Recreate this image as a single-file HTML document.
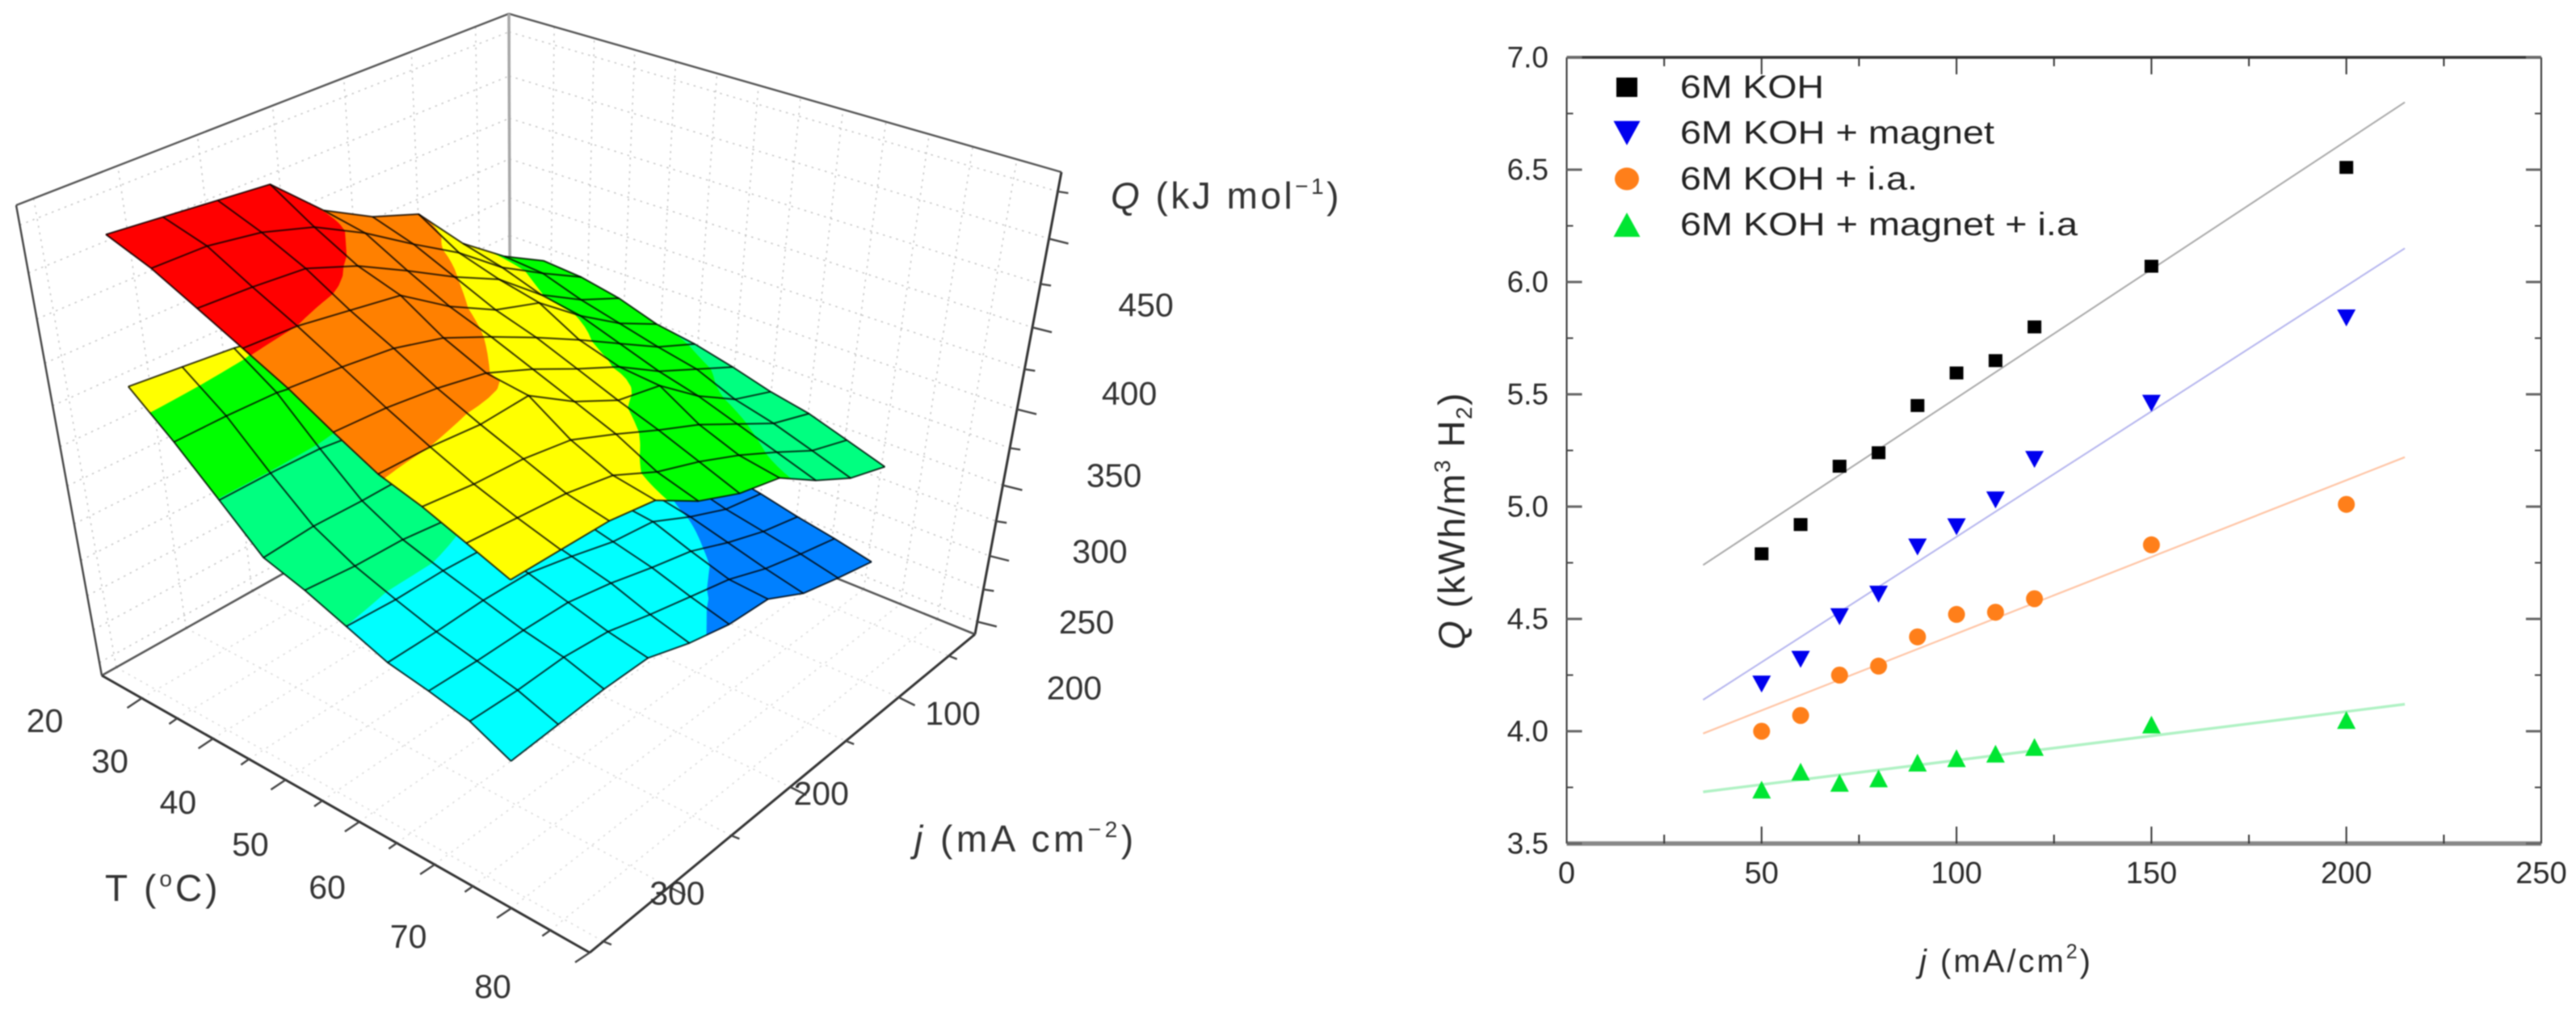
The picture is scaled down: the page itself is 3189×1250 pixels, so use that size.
<!DOCTYPE html>
<html lang="en">
<head>
<meta charset="utf-8">
<title>3D heat surface and specific energy chart</title>
<style>
html,body{margin:0;padding:0;background:#fff;}
body{width:3189px;height:1250px;overflow:hidden;}
svg{display:block;filter:blur(0.7px);font-family:"Liberation Sans",sans-serif;}
.t3d{font-size:41px;fill:#333;text-anchor:middle;dominant-baseline:central;}
.t2d{font-size:37px;fill:#2a2a2a;dominant-baseline:central;}
.t2dx{font-size:38px;fill:#2a2a2a;dominant-baseline:central;text-anchor:middle;}
.t2dl{font-size:40px;fill:#222;dominant-baseline:central;}
.ttl{font-size:46px;fill:#333;}
</style>
</head>
<body>
<svg id="figure" xmlns="http://www.w3.org/2000/svg" width="3189" height="1250" viewBox="0 0 3189 1250">
  <g id="left-walls"></g>
  <g id="left-box"></g>
  <g id="left-surf"></g>
  <g id="left-axes"></g>
  <text class="ttl" x="1375" y="258" letter-spacing="3.5"><tspan font-style="italic">Q</tspan> (kJ mol<tspan font-size="28" dy="-18">−1</tspan><tspan dy="18">)</tspan></text>
  <text class="ttl" x="130" y="1115" letter-spacing="4">T (<tspan font-size="28" dy="-18">o</tspan><tspan dy="18">C)</tspan></text>
  <text class="ttl" x="1132" y="1054" letter-spacing="4.5"><tspan font-style="italic">j</tspan> (mA cm<tspan font-size="28" dy="-18">−2</tspan><tspan dy="18">)</tspan></text>

  <g id="right-plot"></g>
  <text x="2376" y="1203" font-size="40" letter-spacing="3" fill="#2a2a2a"><tspan font-style="italic">j</tspan> (mA/cm<tspan font-size="25" dy="-17">2</tspan><tspan dy="17">)</tspan></text>
  <text transform="translate(1813,804) rotate(-90)" font-size="46" letter-spacing="1.5" fill="#2a2a2a"><tspan font-style="italic">Q</tspan> (kWh/m<tspan font-size="28" dy="-18">3</tspan><tspan dy="18"> H</tspan><tspan font-size="28" dy="9">2</tspan><tspan dy="-9">)</tspan></text>
</svg>
<script>
// ---------- 3D chart data ----------
const surfaceTemps = [25,30,35,40,45,50,55,60,65,70];
const surfaceCurrents = [360,327,294,261,228,195,162,129,96,63];
const upperQ = [
 [489,486,483,480,455,440,430,401,381,366],
 [481,480,475,466,451,433,416,395,379,364],
 [470,468,465,454,439,423,409,387,371,359],
 [459,457,452,447,428,413,404,383,365,351],
 [448,445,441,433,420,406,391,375,359,347],
 [435,433,429,423,411,397,384,367,354,341],
 [423,422,419,420,402,388,382,361,344,334],
 [416,412,410,405,393,380,368,353,338,329],
 [407,404,401,395,381,371,359,345,330,321],
 [398,397,396,391,374,362,355,337,322,313]
];
const lowerQ = [
 [409,406,403,398,388,378,365,350,335,322],
 [388,388,387,382,372,362,350,335,320,308],
 [365,365,364,360,352,342,332,318,305,295],
 [342,344,343,343,335,325,315,303,292,283],
 [334,331,330,326,320,312,303,292,282,274],
 [324,322,322,320,313,305,298,286,276,268],
 [314,314,315,314,307,299,295,281,269,263],
 [309,308,308,307,301,293,286,274,264,257],
 [303,302,303,300,292,285,278,267,259,252],
 [291,293,295,295,285,278,276,261,253,246]
];
const upperLevels = [457,422,386,349];
const lowerLevels = [399,365.5,324,282];
const upperBandNames = ['red','orange','yellow','green','spring'];
const lowerBandNames = ['yellow','green','spring','cyan','blue'];
const tTicks = [20,25,30,35,40,45,50,55,60,65,70,75,80];
const tLabels = [20,30,40,50,60,70,80];
const jTicks = [50,100,150,200,250,300,350];
const jLabels = [100,200,300];
const qTicks = [200,225,250,275,300,325,350,375,400,425,450,475];
const qLabels = [200,250,300,350,400,450];

// ---------- scatter chart data ----------
const currents = [50,60,70,80,90,100,110,120,150,200];
const seriesKOH = [4.79,4.92,5.18,5.24,5.45,5.595,5.65,5.80,6.07,6.51];
const seriesMagnet = [4.21,4.32,4.51,4.61,4.82,4.91,5.03,5.21,5.46,5.84];
const seriesIA = [4.00,4.07,4.25,4.29,4.42,4.52,4.53,4.59,4.83,5.01];
const seriesBoth = [3.74,3.82,3.77,3.79,3.86,3.88,3.90,3.93,4.03,4.05];
const fitRange = [35,215];
const fitKOH = [4.74,6.80];
const fitMagnet = [4.14,6.15];
const fitIA = [3.99,5.22];
const fitBoth = [3.73,4.12];
const xTickValues = [0,25,50,75,100,125,150,175,200,225,250];
const yTickValues = [3.5,3.75,4,4.25,4.5,4.75,5,5.25,5.5,5.75,6,6.25,6.5,6.75,7];
const legendLabels = ['6M KOH','6M KOH + magnet','6M KOH + i.a.','6M KOH + magnet + i.a'];

const NS = 'http://www.w3.org/2000/svg';
const bandPalette = {red:'#ff0000',orange:'#ff8000',yellow:'#ffff00',green:'#00ff00',spring:'#00ff80',cyan:'#00ffff',blue:'#0080ff'};
function mk(parent, tag, attrs){
  const el = document.createElementNS(NS, tag);
  for(const k in attrs) el.setAttribute(k, attrs[k]);
  parent.appendChild(el);
  return el;
}

// ---------- 3D projection ----------
const T_MIN = 14.3, T_MAX = 80, J_FRONT = 360, J_BACK = 23, Q_MIN = 190, Q_MAX = 485;
function tU(T){ const r=(T-T_MIN)/(T_MAX-T_MIN); return 0.94*r/(1-0.06*r); }
function jV(j){ const p=(J_FRONT-j)/(J_FRONT-J_BACK); return 1.2*p/(1+0.2*p); }
function qS(Q){ const w=(Q-Q_MIN)/(Q_MAX-Q_MIN); return 0.8*w/(1-0.2*w); }
function project(T,j,Q){
  const u=tU(T), v=jV(j), s=qS(Q);
  const fx=126+604*u+506*v-29*u*v, fy=836+343*u-284*v-110*u*v;
  const gx=20+728*u+610*v-44*u*v, gy=254+299*u-237*v-103*u*v;
  return [fx+s*(gx-fx), fy+s*(gy-fy)];
}
function seg(parent,a,b,stroke,width,dash){
  const attrs={x1:a[0].toFixed(1),y1:a[1].toFixed(1),x2:b[0].toFixed(1),y2:b[1].toFixed(1),stroke:stroke,'stroke-width':width};
  if(dash) attrs['stroke-dasharray']=dash;
  return mk(parent,'line',attrs);
}

// wall and floor grid
const walls=document.getElementById('left-walls');
const gridStroke='#c4c4c4', floorStroke='#d8d8d8', gridDash='2.5 6';
qTicks.forEach(function(q){
  const a=seg(walls,project(T_MIN,J_FRONT,q),project(T_MIN,J_BACK,q),gridStroke,1.5,gridDash);
  
  
  const b=seg(walls,project(T_MIN,J_BACK,q),project(T_MAX,J_BACK,q),gridStroke,1.5,gridDash);
  
  
});
jTicks.forEach(function(j){
  const a=seg(walls,project(T_MIN,j,Q_MIN),project(T_MIN,j,Q_MAX),gridStroke,1.5,gridDash);
  
  
  const b=seg(walls,project(T_MIN,j,Q_MIN),project(T_MAX,j,Q_MIN),floorStroke,1.5,gridDash);
  
  
});
tTicks.forEach(function(t){
  const a=seg(walls,project(t,J_BACK,Q_MIN),project(t,J_BACK,Q_MAX),gridStroke,1.5,gridDash);
  
  
  const b=seg(walls,project(t,J_FRONT,Q_MIN),project(t,J_BACK,Q_MIN),floorStroke,1.5,gridDash);
  
  
});

// box frame
const box=document.getElementById('left-box');
const boxEdges=[
 ['top-left-edge',[T_MIN,J_FRONT,Q_MAX],[T_MIN,J_BACK,Q_MAX],'#555',2.4],
 ['top-right-edge',[T_MIN,J_BACK,Q_MAX],[T_MAX,J_BACK,Q_MAX],'#555',2.4],
 ['left-vertical-edge',[T_MIN,J_FRONT,Q_MIN],[T_MIN,J_FRONT,Q_MAX],'#444',2.4],
 ['back-vertical-edge',[T_MIN,J_BACK,Q_MIN],[T_MIN,J_BACK,Q_MAX],'#a8a8a8',3.6],
 ['right-vertical-edge',[T_MAX,J_BACK,Q_MIN],[T_MAX,J_BACK,Q_MAX],'#333',3],
 ['floor-back-left-edge',[T_MIN,J_FRONT,Q_MIN],[T_MIN,J_BACK,Q_MIN],'#555',2.6],
 ['floor-back-right-edge',[T_MIN,J_BACK,Q_MIN],[T_MAX,J_BACK,Q_MIN],'#555',2.6],
 ['t-axis-line',[T_MIN,J_FRONT,Q_MIN],[T_MAX,J_FRONT,Q_MIN],'#333',3],
 ['j-axis-line',[T_MAX,J_FRONT,Q_MIN],[T_MAX,J_BACK,Q_MIN],'#333',3]
];
boxEdges.forEach(function(e){
  const l=seg(box,project.apply(null,e[1]),project.apply(null,e[2]),e[3],e[4]);
  
  
});

// surfaces
function clipPoly(poly,level,above){
  const out=[];
  for(let n=0;n<poly.length;n++){
    const a=poly[n], b=poly[(n+1)%poly.length];
    const ina=above?a[2]>=level:a[2]<level, inb=above?b[2]>=level:b[2]<level;
    if(ina) out.push(a);
    if(ina!==inb){
      const t=(level-a[2])/(b[2]-a[2]);
      out.push([a[0]+t*(b[0]-a[0]),a[1]+t*(b[1]-a[1]),level]);
    }
  }
  return out;
}
function drawSurface(name,temps,curr,grid,levels,bandNames){
  const host=document.getElementById('left-surf');
  const paths=bandNames.map(function(){return '';});
  const N=4;
  for(let i=0;i<temps.length-1;i++){
    for(let k=0;k<curr.length-1;k++){
      for(let a=0;a<N;a++){
        for(let b=0;b<N;b++){
          const corner=function(fa,fb){
            const q=(1-fa)*(1-fb)*grid[i][k]+fa*(1-fb)*grid[i+1][k]+(1-fa)*fb*grid[i][k+1]+fa*fb*grid[i+1][k+1];
            return [temps[i]+fa*(temps[i+1]-temps[i]),curr[k]+fb*(curr[k+1]-curr[k]),q];
          };
          const poly=[corner(a/N,b/N),corner((a+1)/N,b/N),corner((a+1)/N,(b+1)/N),corner(a/N,(b+1)/N)];
          for(let bi=0;bi<bandNames.length;bi++){
            let piece=poly;
            if(bi<levels.length) piece=clipPoly(piece,levels[bi],true);
            if(bi>0) piece=clipPoly(piece,levels[bi-1],false);
            if(piece.length>2){
              paths[bi]+='M'+piece.map(function(p){const s=project(p[0],p[1],p[2]);return s[0].toFixed(1)+' '+s[1].toFixed(1);}).join('L')+'Z';
            }
          }
        }
      }
    }
  }
  bandNames.forEach(function(bn,bi){
    const c=bandPalette[bn];
    const el=mk(host,'path',{d:paths[bi],fill:c,stroke:c,'stroke-width':0.8});
    
    
  });
  temps.forEach(function(t,i){
    const pts=curr.map(function(j,k){return project(t,j,grid[i][k]).map(function(v){return v.toFixed(1);}).join(',');}).join(' ');
    const el=mk(host,'polyline',{points:pts,fill:'none',stroke:'#000','stroke-opacity':0.78,'stroke-width':2,'stroke-linejoin':'round'});
    
    
  });
  curr.forEach(function(j,k){
    const pts=temps.map(function(t,i){return project(t,j,grid[i][k]).map(function(v){return v.toFixed(1);}).join(',');}).join(' ');
    const el=mk(host,'polyline',{points:pts,fill:'none',stroke:'#000','stroke-opacity':0.78,'stroke-width':2,'stroke-linejoin':'round'});
    
    
  });
}
drawSurface('lower-surface',surfaceTemps,surfaceCurrents,lowerQ,lowerLevels,lowerBandNames);
drawSurface('upper-surface',surfaceTemps,surfaceCurrents,upperQ,upperLevels,upperBandNames);

// 3D axes ticks and labels
const ax3=document.getElementById('left-axes');
tTicks.forEach(function(t){
  const base=project(t,J_FRONT,Q_MIN);
  const major=tLabels.indexOf(t)>=0;
  const end=[base[0]-(major?18:10),base[1]+(major?12:7)];
  const l=seg(ax3,base,end,'#444',2.4);
  
  
  if(major){
    const dx=-(120+15*Math.sin(Math.PI*(t-20)/60));
    const dy=28+Math.max(0,t-60)*0.7;
    const txt=mk(ax3,'text',{x:(base[0]+dx).toFixed(1),y:(base[1]+dy).toFixed(1),'class':'t3d'});
    txt.textContent=t;
    
    
  }
});
jTicks.forEach(function(j){
  const base=project(T_MAX,j,Q_MIN);
  const major=jLabels.indexOf(j)>=0;
  const end=[base[0]+(major?20:10),base[1]+(major?10:4)];
  const l=seg(ax3,base,end,'#444',2.4);
  
  
  if(major){
    const lx=base[0]+10+(300-j)*0.285;
    const ly=base[1]+8+Math.max(0,200-j)*0.12;
    const txt=mk(ax3,'text',{x:lx.toFixed(1),y:ly.toFixed(1),'class':'t3d'});
    txt.textContent=j;
    
    
  }
});
qTicks.forEach(function(q){
  const base=project(T_MAX,J_BACK,q);
  const major=qLabels.indexOf(q)>=0;
  const end=[base[0]+(major?24:13),base[1]+(major?6:2)];
  const l=seg(ax3,base,end,'#444',2.4);
  
  
  if(major){
    const txt=mk(ax3,'text',{x:(base[0]+120).toFixed(1),y:(base[1]+82).toFixed(1),'class':'t3d'});
    txt.textContent=q;
    
    
  }
});

// ---------- scatter chart ----------
const plot=document.getElementById('right-plot');
const PL=1939.5, PR=3146, PT=71, PB=1044;
function xS(v){ return PL+(v-0)/(250-0)*(PR-PL); }
function yS(v){ return PB-(v-3.5)/(7-3.5)*(PB-PT); }

const frameParts=[
 ['left-axis-line',[PL,PT],[PL,PB],'#333',2],
 ['right-axis-line',[PR,PT],[PR,PB],'#333',2],
 ['top-axis-line',[PL,PT],[PR,PT],'#333',3.5],
 ['bottom-axis-line',[PL,PB],[PR,PB],'#888',5.5]
];
frameParts.forEach(function(f){
  const l=seg(plot,f[1],f[2],f[3],f[4]);
  
  
});
xTickValues.forEach(function(v,n){
  const major=n%2===0;
  const x=xS(v);
  const len=major?21:11;
  const a=seg(plot,[x,PB],[x,PB-len],'#333',2);
  
  
  const b=seg(plot,[x,PT],[x,PT+len],'#333',2);
  
  
  if(major){
    const t=mk(plot,'text',{x:x.toFixed(1),y:1081,'class':'t2dx'});
    t.textContent=v;
    
    
  }
});
yTickValues.forEach(function(v,n){
  const major=n%2===0;
  const y=yS(v);
  const len=major?19:8;
  const a=seg(plot,[PL,y],[PL+len,y],major?'#666':'#444',major?3:2);
  
  
  const b=seg(plot,[PR,y],[PR-len,y],major?'#666':'#444',major?3:2);
  
  
  if(major){
    const t=mk(plot,'text',{x:1917,y:y.toFixed(1),'class':'t2d','text-anchor':'end'});
    t.textContent=v.toFixed(1);
    
    
  }
});

function fitLine(vals,stroke,width,name){
  const l=seg(plot,[xS(fitRange[0]),yS(vals[0])],[xS(fitRange[1]),yS(vals[1])],stroke,width);
  
  
}
fitLine(fitKOH,'#a8a8a8',2,'fit-line-koh');
fitLine(fitMagnet,'#b4b4ee',2,'fit-line-magnet');
fitLine(fitIA,'#ffc4a4',2.2,'fit-line-ia');
fitLine(fitBoth,'#b0f2c4',3.4,'fit-line-magnet-ia');

function marker(kind,cx,cy,w,h,name){
  let el;
  if(kind==='square') el=mk(plot,'rect',{x:(cx-w/2).toFixed(1),y:(cy-h/2).toFixed(1),width:w,height:h,fill:'#000'});
  if(kind==='down') el=mk(plot,'polygon',{points:[(cx-w/2).toFixed(1)+','+(cy-h/2).toFixed(1),(cx+w/2).toFixed(1)+','+(cy-h/2).toFixed(1),cx.toFixed(1)+','+(cy+h/2).toFixed(1)].join(' '),fill:'#0000ee'});
  if(kind==='circle') el=mk(plot,'ellipse',{cx:cx.toFixed(1),cy:cy.toFixed(1),rx:w/2,ry:h/2,fill:'#ff7f1a'});
  if(kind==='up') el=mk(plot,'polygon',{points:[(cx-w/2).toFixed(1)+','+(cy+h/2).toFixed(1),(cx+w/2).toFixed(1)+','+(cy+h/2).toFixed(1),cx.toFixed(1)+','+(cy-h/2).toFixed(1)].join(' '),fill:'#00e632'});
  
  
}
currents.forEach(function(c,n){
  marker('square',xS(c),yS(seriesKOH[n]),17,16,'point-koh');
  marker('down',xS(c),yS(seriesMagnet[n]),23,21,'point-magnet');
  marker('circle',xS(c),yS(seriesIA[n]),21,21,'point-ia');
  marker('up',xS(c),yS(seriesBoth[n]),23,22,'point-magnet-ia');
});

const legendKinds=['square','down','circle','up'];
const legendTextWidths=[178,389,294,492];
legendLabels.forEach(function(label,n){
  const ly=108+n*56.7;
  const sizes=n===0?[26,24]:(n===2?[30,28]:[33,30]);
  marker(legendKinds[n],2014,ly,sizes[0],sizes[1],'legend-marker');
  const t=mk(plot,'text',{x:2080,y:ly.toFixed(1),'class':'t2dl',textLength:legendTextWidths[n],lengthAdjust:'spacingAndGlyphs'});
  t.textContent=label;
  
  
});
</script>
</body>
</html>
